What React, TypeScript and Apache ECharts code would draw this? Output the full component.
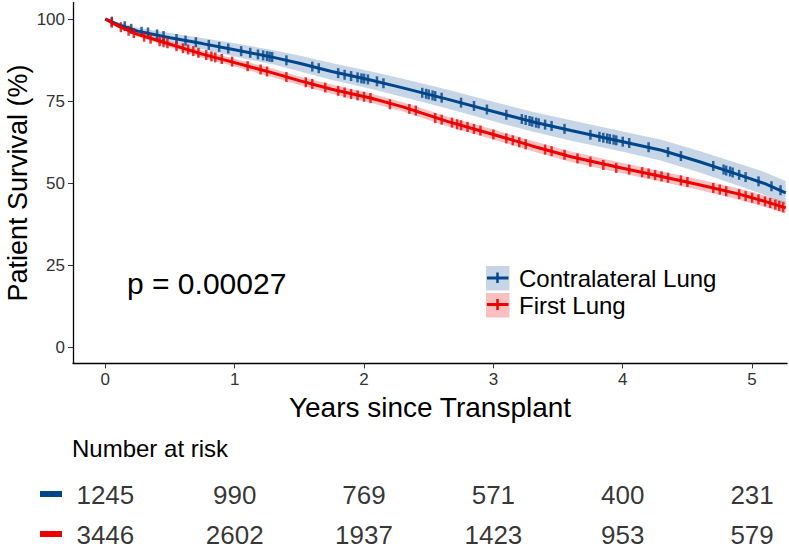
import React, { useEffect, useRef } from "react";
import * as echarts from "echarts";

const times = [0, 0.1, 0.25, 0.5, 0.75, 1.0, 1.3, 1.5, 1.75, 2.05, 2.3, 2.65, 3.0, 3.3, 3.6, 4.0, 4.3, 4.6, 4.9, 5.1, 5.26];
const blueSurv = [100, 98.3, 96.3, 94.3, 92.5, 90.6, 88.3, 86.5, 84, 81.4, 79, 75.5, 71.8, 68.7, 66, 62.6, 60, 56.4, 52.5, 49.8, 47];
const blueUpper = [100, 98.9, 97.3, 95.7, 94.2, 92.6, 90.5, 88.9, 86.6, 84.1, 81.8, 78.4, 74.8, 71.7, 69.1, 65.7, 63.2, 59.7, 55.9, 53.3, 50.6];
const blueLower = [100, 97.7, 95.3, 92.9, 90.8, 88.6, 86.1, 84.1, 81.4, 78.7, 76.2, 72.6, 68.8, 65.7, 62.9, 59.5, 56.8, 53.1, 49.1, 46.3, 43.4];
const redSurv = [100, 97.8, 95.3, 92.3, 89.3, 86.7, 83.5, 81.2, 78.6, 75.9, 73.2, 68.7, 64.8, 61.3, 58, 54.5, 52, 49.4, 46.6, 44.4, 42.4];
const redUpper = [100, 98.2, 96.0, 93.2, 90.4, 87.9, 84.8, 82.5, 80.0, 77.3, 74.6, 70.2, 66.3, 62.9, 59.6, 56.1, 53.6, 51.0, 48.3, 46.1, 44.2];
const redLower = [100, 97.4, 94.6, 91.4, 88.2, 85.5, 82.2, 79.9, 77.2, 74.5, 71.8, 67.2, 63.3, 59.7, 56.4, 52.9, 50.4, 47.8, 44.9, 42.7, 40.6];

const blueCensor: [number, number][] = [
  [0.05, 99.2], [0.15, 97.8], [0.2, 97], [0.28, 96.1], [0.33, 95.9], [0.4, 95.3], [0.45, 94.8], [0.55, 93.9],
  [0.62, 93.4], [0.7, 92.9], [0.8, 92.1], [0.88, 91.5], [0.95, 91.0], [1.05, 90.2], [1.12, 89.7], [1.18, 89.2],
  [1.22, 88.9], [1.25, 88.7], [1.27, 88.5], [1.29, 88.4], [1.4, 87.4], [1.6, 85.5], [1.65, 85], [1.8, 83.5],
  [1.85, 83], [1.9, 82.6], [1.95, 82.2], [1.98, 81.9], [2.0, 81.8], [2.03, 81.6], [2.1, 81], [2.15, 80.4],
  [2.45, 77.5], [2.48, 77.2], [2.5, 77], [2.53, 76.7], [2.55, 76.5], [2.6, 76], [2.75, 74.5], [2.85, 73.5],
  [2.95, 72.4], [3.1, 70.8], [3.22, 69.5], [3.25, 69.2], [3.28, 68.9], [3.3, 68.7], [3.33, 68.4], [3.35, 68.2],
  [3.4, 67.8], [3.45, 67.4], [3.55, 66.5], [3.75, 64.7], [3.82, 64.1], [3.85, 63.8], [3.88, 63.6], [3.9, 63.4],
  [3.93, 63.2], [3.95, 63], [4.0, 62.6], [4.05, 62.2], [4.2, 60.9], [4.35, 59.4], [4.45, 58.2], [4.7, 55.2],
  [4.78, 54.1], [4.8, 53.8], [4.83, 53.5], [4.85, 53.2], [4.9, 52.5], [4.95, 51.8], [5.05, 50.5], [5.15, 49],
  [5.22, 47.8],
];
const redCensor: [number, number][] = [
  [0.05, 98.9], [0.12, 97.5], [0.18, 96.4], [0.22, 95.7], [0.3, 94.6], [0.35, 94], [0.42, 93.2], [0.45, 92.9],
  [0.48, 92.6], [0.55, 91.7], [0.6, 91.1], [0.64, 90.7], [0.68, 90.2], [0.72, 89.7], [0.78, 89], [0.82, 88.6],
  [0.85, 88.3], [0.9, 87.8], [0.98, 87], [1.1, 85.6], [1.2, 84.6], [1.25, 84], [1.4, 82.3], [1.55, 80.7],
  [1.6, 80.2], [1.7, 79.1], [1.8, 78.1], [1.85, 77.6], [1.9, 77.1], [1.95, 76.7], [2.0, 76.3], [2.05, 75.9],
  [2.2, 74], [2.35, 72.6], [2.4, 72.1], [2.55, 69.8], [2.6, 69.3], [2.68, 68.4], [2.72, 67.9], [2.75, 67.6],
  [2.8, 67.1], [2.85, 66.5], [2.9, 66], [3.0, 64.8], [3.1, 63.6], [3.15, 63], [3.2, 62.4], [3.25, 61.8],
  [3.4, 60.2], [3.45, 59.7], [3.55, 58.6], [3.65, 57.5], [3.75, 56.5], [3.85, 55.5], [3.95, 54.6], [4.05, 54.1],
  [4.15, 53.3], [4.2, 52.9], [4.25, 52.4], [4.3, 52], [4.35, 51.6], [4.45, 50.8], [4.5, 50.3], [4.7, 48.5],
  [4.75, 48], [4.8, 47.5], [4.9, 46.6], [4.95, 46], [5.0, 45.5], [5.05, 45], [5.1, 44.4], [5.14, 43.9],
  [5.18, 43.4], [5.21, 43], [5.24, 42.6],
];

const xTicks = [0, 1, 2, 3, 4, 5];
const yTicks = [0, 25, 50, 75, 100];
const groups = ["Contralateral Lung", "First Lung"];
const riskBlue = [1245, 990, 769, 571, 400, 231];
const riskRed = [3446, 2602, 1937, 1423, 953, 579];
const pText = "p = 0.00027";

const BLUE = "#00468B";
const RED = "#ED0000";
const BLUE_BAND = "rgba(0,70,139,0.22)";
const RED_BAND = "rgba(237,0,0,0.25)";
const FONT = "Liberation Sans, Arial, sans-serif";

export default function App() {
  const ref = useRef<HTMLDivElement>(null);
  useEffect(() => {
    document.body.style.margin = "0";
    const chart = echarts.init(ref.current!, null, { renderer: "svg" });
    const xMin = -0.25, xMax = 5.27;
    const pair = (ys: number[]) => times.map((t, i) => [t, ys[i]]);
    const band = (lo: number[], hi: number[], color: string, z: number) => ({
      type: "custom",
      data: times.map((t, i) => [t, lo[i], hi[i]]),
      silent: true,
      z,
      renderItem: (params: any, api: any) => {
        if (params.dataIndex !== 0) return null;
        const upper = times.map((t, i) => api.coord([t, hi[i]]));
        const lower = times.map((t, i) => api.coord([t, lo[i]])).reverse();
        return {
          type: "polygon",
          shape: { points: upper.concat(lower) },
          style: { fill: color },
        };
      },
      encode: { x: 0, y: [1, 2] },
    });
    const riskData: any[] = [];
    xTicks.forEach((t, i) => {
      riskData.push({ value: [t, groups[0]], n: riskBlue[i] });
      riskData.push({ value: [t, groups[1]], n: riskRed[i] });
    });
    const option: any = {
      animation: false,
      textStyle: { fontFamily: FONT },
      grid: [
        { left: 73, right: 2, top: 2.6, bottom: 185.6, outerBoundsMode: "none", containLabel: false },
        { left: 73, right: 2, top: 475, height: 80, outerBoundsMode: "none", containLabel: false },
      ],
      xAxis: [
        {
          type: "value", gridIndex: 0, min: xMin, max: xMax,
          splitLine: { show: false },
          axisLine: { show: true, onZero: false, lineStyle: { color: "#000", width: 1.3 } },
          axisTick: { show: true, length: 5, lineStyle: { color: "#333" }, customValues: xTicks },
          axisLabel: { customValues: xTicks, color: "#333", fontSize: 17, margin: 8, fontFamily: FONT },
          name: "Years since Transplant", nameLocation: "middle", nameGap: 27,
          nameTextStyle: { fontSize: 28, color: "#000", fontFamily: FONT },
        },
        {
          type: "value", gridIndex: 1, min: xMin, max: xMax, show: false,
        },
      ],
      yAxis: [
        {
          type: "value", gridIndex: 0, min: -5, max: 105,
          splitLine: { show: false },
          axisLine: { show: true, onZero: false, lineStyle: { color: "#000", width: 1.3 } },
          axisTick: { show: true, length: 5, lineStyle: { color: "#333" }, customValues: yTicks },
          axisLabel: { customValues: yTicks, color: "#333", fontSize: 17, margin: 8, fontFamily: FONT },
          name: "Patient Survival (%)", nameLocation: "middle", nameGap: 42, nameMoveOverlap: false,
          nameTextStyle: { fontSize: 27, color: "#000", fontFamily: FONT },
        },
        {
          type: "category", gridIndex: 1, data: groups, inverse: true, show: false,
        },
      ],
      series: [
        band(blueLower, blueUpper, BLUE_BAND, 1),
        band(redLower, redUpper, RED_BAND, 1),
        {
          type: "line", name: groups[0], data: pair(blueSurv), symbol: "none",
          lineStyle: { color: BLUE, width: 3 }, z: 3,
        },
        {
          type: "line", name: groups[1], data: pair(redSurv), symbol: "none",
          lineStyle: { color: RED, width: 3 }, z: 4,
        },
        {
          type: "scatter", data: blueCensor, symbol: "rect", symbolSize: [2.5, 10],
          itemStyle: { color: BLUE }, z: 3,
        },
        {
          type: "scatter", data: redCensor, symbol: "rect", symbolSize: [2.5, 10],
          itemStyle: { color: RED }, z: 4,
        },
        {
          type: "scatter", xAxisIndex: 1, yAxisIndex: 1, data: riskData, symbolSize: 0,
          label: {
            show: true, position: "inside", fontSize: 26, color: "#000", fontFamily: FONT,
            formatter: (p: any) => String(p.data.n),
          },
        },
      ],
      graphic: [
        { type: "text", x: 127, y: 283, style: { text: pText, fontSize: 30, fill: "#000", fontFamily: FONT, verticalAlign: "middle" } },
        { type: "text", x: 72, y: 448, style: { text: "Number at risk", fontSize: 24, fill: "#000", fontFamily: FONT, verticalAlign: "middle" } },
        { type: "rect", shape: { x: 40, y: 491, width: 22, height: 6 }, style: { fill: BLUE } },
        { type: "rect", shape: { x: 40, y: 531, width: 22, height: 6 }, style: { fill: RED } },
        { type: "rect", shape: { x: 486, y: 266, width: 23.5, height: 24.5 }, style: { fill: BLUE_BAND } },
        { type: "line", shape: { x1: 487, y1: 278, x2: 508.5, y2: 278 }, style: { stroke: BLUE, lineWidth: 3 } },
        { type: "line", shape: { x1: 497.5, y1: 272.5, x2: 497.5, y2: 283 }, style: { stroke: BLUE, lineWidth: 2.5 } },
        { type: "text", x: 519, y: 278.5, style: { text: groups[0], fontSize: 24, fill: "#000", fontFamily: FONT, verticalAlign: "middle" } },
        { type: "rect", shape: { x: 486, y: 293, width: 23.5, height: 24.5 }, style: { fill: RED_BAND } },
        { type: "line", shape: { x1: 487, y1: 304.5, x2: 508.5, y2: 304.5 }, style: { stroke: RED, lineWidth: 3 } },
        { type: "line", shape: { x1: 497.5, y1: 299, x2: 497.5, y2: 310 }, style: { stroke: RED, lineWidth: 2.5 } },
        { type: "text", x: 519, y: 305, style: { text: groups[1], fontSize: 24, fill: "#000", fontFamily: FONT, verticalAlign: "middle" } },
      ],
    };
    chart.setOption(option);
    return () => chart.dispose();
  }, []);
  return <div ref={ref} style={{ width: 789, height: 549 }} />;
}
